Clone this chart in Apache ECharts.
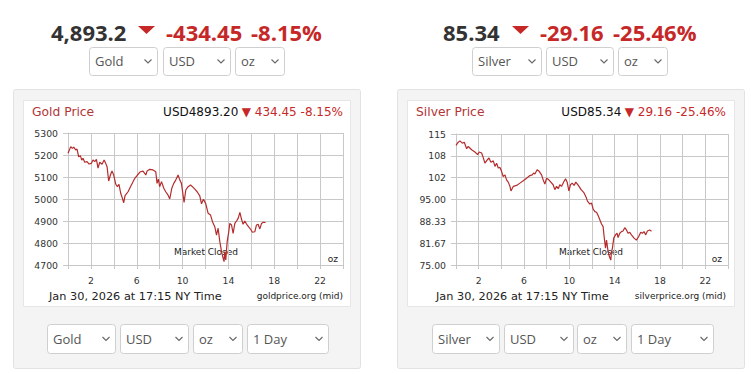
<!DOCTYPE html>
<html><head><meta charset="utf-8">
<script src="https://cdn.jsdelivr.net/npm/echarts@6/dist/echarts.min.js"></script>
<style>html,body{margin:0;padding:0;background:#fff}#c{width:751px;height:374px}</style>
</head><body><div id="c"></div>
<script>
// ---- data ----
const goldTime = [0,0.24,0.38,0.5,0.67,0.79,0.93,1.08,1.2,1.31,1.46,1.66,1.84,2.04,2.18,2.33,2.48,2.62,2.77,2.97,3.15,3.29,3.41,3.55,3.7,3.84,3.99,4.17,4.31,4.45,4.6,4.75,4.86,4.98,5.24,5.53,5.83,6.06,6.32,6.55,6.79,6.9,7.14,7.42,7.66,7.77,7.89,8.0,8.16,8.36,8.53,8.73,8.88,9.06,9.23,9.4,9.61,9.76,9.9,10.13,10.28,10.48,10.69,10.86,11.07,11.27,11.5,11.65,11.82,12.02,12.23,12.44,12.61,12.81,12.96,13.1,13.25,13.4,13.54,13.62,13.68,13.77,13.89,14.03,14.12,14.27,14.41,14.56,14.71,14.85,15.0,15.14,15.28,15.43,15.63,15.87,16.1,16.3,16.45,16.59,16.74,16.89,17.03,17.25];
const goldPrice = [5208,5238,5230,5236,5223,5227,5192,5197,5177,5185,5167,5170,5159,5162,5177,5170,5180,5140,5167,5158,5177,5162,5147,5082,5109,5127,5109,5067,5056,5067,5026,5003,4983,5015,5033,5064,5094,5109,5124,5127,5109,5127,5135,5132,5124,5071,5091,5056,5079,5049,5033,5018,5000,5049,5071,5086,5109,5086,5071,4985,5041,5056,5064,5056,5045,5033,5014,4978,4999,4979,4935,4927,4897,4874,4836,4867,4806,4761,4730,4715,4761,4723,4806,4851,4889,4882,4844,4889,4900,4912,4939,4909,4885,4900,4882,4867,4849,4851,4882,4885,4864,4889,4894,4893.2];
const silverTime = [0,0.2,0.35,0.56,0.73,0.94,1.08,1.38,1.67,1.91,2.05,2.26,2.41,2.55,2.76,2.91,3.08,3.29,3.44,3.58,3.73,3.88,4.02,4.17,4.32,4.46,4.61,4.76,4.85,5.05,5.35,5.64,5.93,6.23,6.52,6.73,6.85,6.96,7.16,7.34,7.55,7.69,7.84,7.99,8.19,8.37,8.57,8.72,8.87,9.02,9.16,9.31,9.52,9.67,9.81,9.96,10.1,10.25,10.42,10.57,10.78,11.04,11.3,11.5,11.6,11.81,11.96,12.1,12.25,12.4,12.54,12.69,12.84,12.98,13.07,13.19,13.28,13.42,13.54,13.66,13.72,13.8,13.92,14.07,14.21,14.3,14.45,14.6,14.74,14.89,15.04,15.18,15.33,15.48,15.71,15.92,16.12,16.3,16.45,16.59,16.74,16.89,17.09,17.25];
const silverPrice = [111.5,112.5,112.9,112.2,112.5,110.5,111.2,110.2,109.5,108.7,109.5,109.2,107.7,106.1,107.1,107.7,106.4,106.8,105.1,106.1,104.6,104.8,103.6,102.0,102.5,101.0,100.3,99.0,97.6,99.0,99.3,100.0,100.7,101.5,102.3,102.5,103.1,102.8,104.1,103.6,102.5,101.0,99.7,101.5,101.0,100.3,99.5,98.0,99.0,98.3,99.5,99.0,100.5,101.3,100.3,97.6,99.5,100.0,99.3,100.3,99.4,98.0,97.0,95.5,94.5,93.6,93.9,92.1,91.3,91.1,90.1,88.8,87.5,86.7,83.7,80.1,82.6,79.1,77.5,76.5,79.1,80.1,83.2,84.2,84.7,83.4,84.7,85.2,85.4,86.4,85.7,84.7,85.0,84.2,83.2,82.6,83.7,85.0,84.7,85.2,84.2,85.4,85.7,85.34];
const hourLabels = [2,6,10,14,18,22];
const goldTickLabels = ['4700','4800','4900','5000','5100','5200','5300'];
const silverTickLabels = ['75.00','81.67','88.33','95.00','102','108','115'];
const goldRange = [4700,5300];
const silverRange = [75,115];

// ---- styles ----
const RED = '#c62828', DARK = '#333', LINE = '#b52c2c', GRID = '#c8c8c8';
const CF = 'DejaVu Sans', HF = 'Open Sans';

function xAxis(i){
  return {gridIndex:i,type:'value',min:0,max:24,interval:2,
    axisLine:{show:true,onZero:false,lineStyle:{color:GRID}},
    axisTick:{show:true,length:4,lineStyle:{color:GRID}},
    splitLine:{show:true,lineStyle:{color:GRID,width:1}},
    axisLabel:{margin:11,fontSize:9.3,fontFamily:CF,color:DARK,
      formatter:v=>hourLabels.includes(Math.round(v)) && Math.abs(v-Math.round(v))<1e-6 ? String(Math.round(v)) : ''}};
}
function yAxis(i,range,labels){
  const step=(range[1]-range[0])/(labels.length-1);
  return {gridIndex:i,type:'value',min:range[0],max:range[1],interval:step,
    axisLine:{show:true,onZero:false,lineStyle:{color:GRID}},
    axisTick:{show:true,length:5,lineStyle:{color:GRID}},
    splitLine:{show:true,lineStyle:{color:GRID,width:1}},
    axisLabel:{margin:10,fontSize:9.3,fontFamily:CF,color:DARK,
      formatter:v=>labels[Math.round((v-range[0])/step)]||''}};
}

function dropdown(x,y,w,h,label){
  const cx=x+w-9, cy=y+h/2;
  return [
    {type:'rect',z:-5,shape:{x:x+0.5,y:y+0.5,width:w,height:h,r:3},style:{fill:'#fff',stroke:'#cfcfcf',lineWidth:1}},
    {type:'text',z:-4,style:{text:label,x:x+6,y:cy,font:'13px "'+HF+'"',fill:'#555',align:'left',verticalAlign:'middle'}},
    {type:'polyline',z:-4,shape:{points:[[cx-3.5,cy-1.5],[cx,cy+2],[cx+3.5,cy-1.5]]},style:{stroke:'#666',lineWidth:1.1,fill:null}}
  ];
}

function panel(p){
  const d=p.dx, els=[];
  els.push({type:'rect',z:-10,shape:{x:13.5+d,y:89.5,width:347,height:279,r:2},style:{fill:'#f4f4f4',stroke:'#e2e2e2',lineWidth:1}});
  els.push({type:'rect',z:-9,shape:{x:23.5+d,y:100.5,width:327,height:206},style:{fill:'#fff',stroke:'#e6e6e6',lineWidth:1}});
  // header
  els.push({type:'text',style:{text:p.price,x:p.hx[0],y:32,font:'bold 22px "'+HF+'"',fill:DARK,align:'left',verticalAlign:'middle'}});
  els.push({type:'polygon',shape:{points:[[p.hx[1],26],[p.hx[1]+17,26],[p.hx[1]+8.5,34]]},style:{fill:RED}});
  els.push({type:'text',style:{text:p.change,x:p.hx[2],y:32,font:'bold 22px "'+HF+'"',fill:RED,align:'left',verticalAlign:'middle'}});
  els.push({type:'text',style:{text:p.pct,x:p.hx[3],y:32,font:'bold 22px "'+HF+'"',fill:RED,align:'left',verticalAlign:'middle'}});
  p.top.forEach(b=>els.push(...dropdown(b[0],47,b[1],28,b[2])));
  p.bottom.forEach(b=>els.push(...dropdown(b[0],324,b[1],29,b[2])));
  // chart texts
  els.push({type:'text',style:{text:p.title,x:32+d,y:112,font:'12.3px "'+CF+'"',fill:'#b23535',align:'left',verticalAlign:'middle'}});
  els.push({type:'text',style:{text:'{a|'+p.quote+'} {b|▼ '+p.diff+'}',x:p.right,y:112,align:'right',verticalAlign:'middle',
    rich:{a:{fontSize:12,fontFamily:CF,fill:'#111'},b:{fontSize:12,fontFamily:CF,fill:RED}}}});
  els.push({type:'text',style:{text:'Jan 30, 2026 at 17:15 NY Time',x:p.dateX,y:296,font:'11.3px "'+CF+'"',fill:'#222',align:'left',verticalAlign:'middle'}});
  els.push({type:'text',style:{text:p.source,x:p.right,y:296,font:'9px "'+CF+'"',fill:'#222',align:'right',verticalAlign:'middle'}});
  els.push({type:'text',style:{text:'Market Closed',x:p.mcX,y:252,font:'9px "'+CF+'"',fill:'#222',align:'center',verticalAlign:'middle'}});
  els.push({type:'text',style:{text:'oz',x:p.ozX,y:259,font:'9px "'+CF+'"',fill:'#222',align:'right',verticalAlign:'middle'}});
  return els;
}

const gold = {dx:0,price:'4,893.2',change:'-434.45',pct:'-8.15%',hx:[51,138,166,251],
  top:[[89,68,'Gold'],[163,67,'USD'],[235,49,'oz']],
  bottom:[[47,68,'Gold'],[120,68,'USD'],[193,49,'oz'],[247,81,'1 Day']],
  title:'Gold Price',quote:'USD4893.20',diff:'434.45 -8.15%',right:343,dateX:49,source:'goldprice.org (mid)',mcX:206,ozX:338};
const silver = {dx:384,price:'85.34',change:'-29.16',pct:'-25.46%',hx:[443,512,540,613],
  top:[[472,69,'Silver'],[546,67,'USD'],[618,49,'oz']],
  bottom:[[432,67,'Silver'],[504,69,'USD'],[577,49,'oz'],[631,82,'1 Day']],
  title:'Silver Price',quote:'USD85.34',diff:'29.16 -25.46%',right:726,dateX:436,source:'silverprice.org (mid)',mcX:591,ozX:722};

const chart = echarts.init(document.getElementById('c'),null,{renderer:'svg'});
chart.setOption({
  animation:false,
  backgroundColor:'#fff',
  grid:[{left:68,top:133,width:275,height:132},{left:456,top:134,width:272,height:131}],
  xAxis:[xAxis(0),xAxis(1)],
  yAxis:[yAxis(0,goldRange,goldTickLabels),yAxis(1,silverRange,silverTickLabels)],
  series:[
    {type:'line',xAxisIndex:0,yAxisIndex:0,symbol:'none',data:goldTime.map((t,i)=>[t,goldPrice[i]]),lineStyle:{color:LINE,width:1.2}},
    {type:'line',xAxisIndex:1,yAxisIndex:1,symbol:'none',data:silverTime.map((t,i)=>[t,silverPrice[i]]),lineStyle:{color:LINE,width:1.2}}
  ],
  graphic:{elements:[...panel(gold),...panel(silver)]}
});
</script></body></html>
